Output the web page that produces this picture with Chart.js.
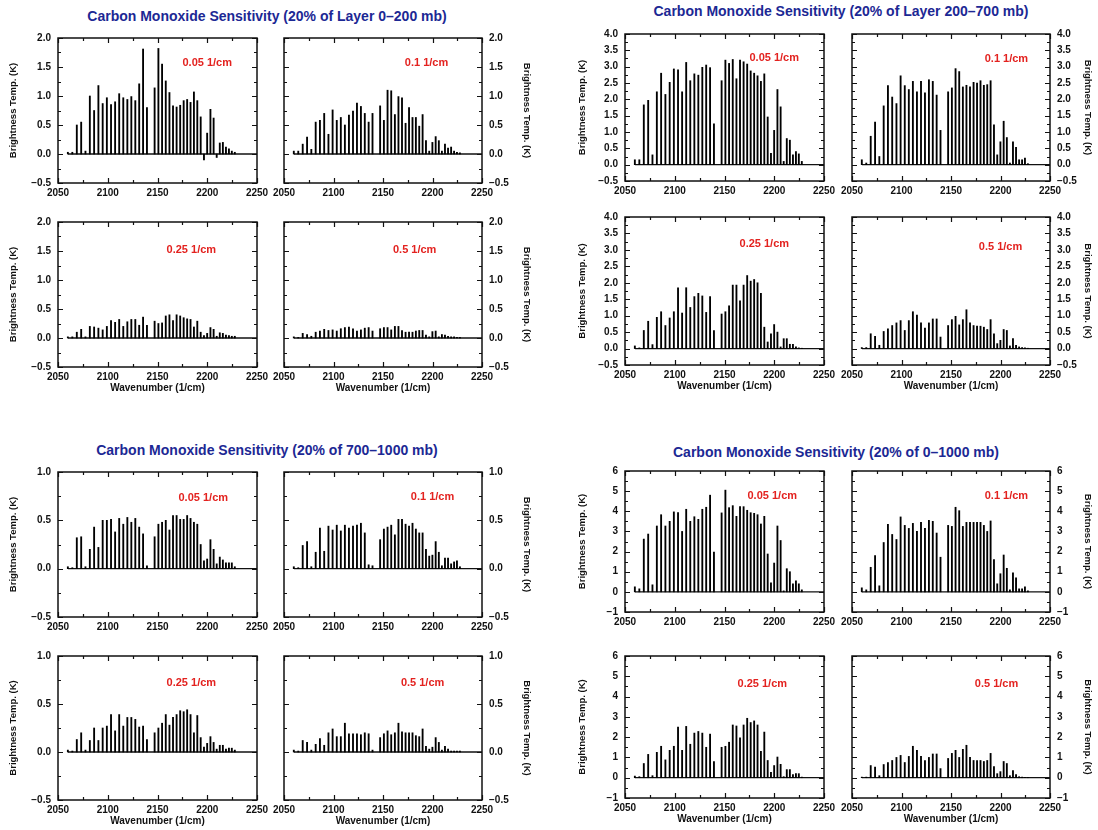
<!DOCTYPE html>
<html>
<head>
<meta charset="utf-8">
<script src="https://cdn.jsdelivr.net/npm/chart.js@4.4.0/dist/chart.umd.min.js"></script>
<style>
  body { margin: 0; background: #fff; }
  #page { position: relative; width: 1098px; height: 830px; overflow: hidden; font-family: 'Liberation Sans', Arial, sans-serif; }
  .title { position: absolute; font-weight: bold; font-size: 14px; color: #1c2894; white-space: nowrap; transform: translate(-50%, -50%); }
  canvas { position: absolute; }
</style>
</head>
<body>
<div id="page">
  <div class="title" style="left:267px;top:16px">Carbon Monoxide Sensitivity (20% of Layer 0–200 mb)</div>
  <div class="title" style="left:841px;top:11px">Carbon Monoxide Sensitivity (20% of Layer 200–700 mb)</div>
  <div class="title" style="left:267px;top:450px">Carbon Monoxide Sensitivity (20% of 700–1000 mb)</div>
  <div class="title" style="left:836px;top:452px">Carbon Monoxide Sensitivity (20% of 0–1000 mb)</div>
</div>
<script>
// CO fundamental band line positions (1/cm), P branch then R branch
const lineWn = [2059.9, 2064.4, 2068.9, 2073.3, 2077.6, 2082.0, 2086.3, 2090.6, 2094.9, 2099.1,
  2103.3, 2107.4, 2111.5, 2115.6, 2119.7, 2123.7, 2127.7, 2131.6, 2135.5, 2139.4,
  2147.1, 2150.9, 2154.6, 2158.3, 2162.0, 2165.6, 2169.2, 2172.8, 2176.3, 2179.8,
  2183.2, 2186.6, 2190.0, 2193.4, 2196.7, 2199.9, 2203.2, 2206.4, 2209.5, 2212.6,
  2215.7, 2218.8, 2221.8, 2224.7, 2227.7];
const spectrumRange = [2060, 2250];
const xTicks = [2050, 2100, 2150, 2200, 2250];
const yTicks0_200 = [-0.5, 0, 0.5, 1, 1.5, 2];
const yTicks200_700 = [-0.5, 0, 0.5, 1, 1.5, 2, 2.5, 3, 3.5, 4];
const yTicks700_1000 = [-0.5, 0, 0.5, 1];
const yTicks0_1000 = [-1, 0, 1, 2, 3, 4, 5, 6];
const resolutions = ['0.05 1/cm', '0.1 1/cm', '0.25 1/cm', '0.5 1/cm'];

// brightness temperature change (K), one value per line
const top005 = [0.03,0.03,0.50,0.55,0.05,1.00,0.75,1.18,0.87,0.97,0.85,0.90,1.04,0.97,0.94,0.99,0.92,1.21,1.81,0.80,
  1.14,1.82,1.55,1.26,1.06,0.83,0.81,0.84,0.92,0.94,0.89,1.07,0.92,0.64,-0.10,0.36,0.77,0.62,-0.06,0.19,0.20,0.12,0.09,0.05,0.03];
const top01 = [0.05,0.05,0.17,0.29,0.08,0.55,0.58,0.70,0.34,0.76,0.58,0.63,0.50,0.67,0.74,0.88,0.82,0.70,0.55,0.70,
  0.83,0.58,1.10,1.09,0.68,0.99,0.97,0.53,0.80,0.63,0.63,0.48,0.68,0.23,0.05,0.20,0.30,0.23,0.05,0.17,0.10,0.12,0.05,0.03,0.02];
const top025 = [0.02,0.02,0.10,0.15,0.02,0.20,0.19,0.17,0.14,0.20,0.30,0.27,0.32,0.20,0.28,0.32,0.32,0.22,0.36,0.22,
  0.29,0.25,0.26,0.38,0.40,0.30,0.40,0.38,0.35,0.33,0.32,0.19,0.29,0.10,0.04,0.08,0.18,0.15,0.03,0.09,0.08,0.05,0.04,0.03,0.03];
const top05 = [0.02,0.01,0.08,0.06,0.03,0.10,0.12,0.15,0.13,0.14,0.12,0.16,0.18,0.19,0.16,0.12,0.14,0.17,0.18,0.12,
  0.16,0.18,0.18,0.14,0.20,0.20,0.13,0.10,0.10,0.10,0.12,0.13,0.13,0.05,0.02,0.11,0.12,0.02,0.06,0.05,0.03,0.02,0.02,0.01,0.01];

const mid005 = [0.15,0.15,1.83,1.97,0.30,2.23,2.80,2.15,2.52,2.93,2.90,2.23,3.13,2.57,2.78,2.74,2.98,3.05,2.97,1.25,
  2.57,3.20,3.10,3.22,2.63,3.20,3.15,3.08,2.87,2.80,2.72,2.55,2.78,1.46,0.35,1.05,2.30,1.77,0.10,0.80,0.75,0.30,0.40,0.33,0.10];
const mid01 = [0.15,0.05,0.87,1.30,0.25,1.80,2.42,2.07,1.87,2.72,2.42,2.30,2.55,2.23,2.55,2.20,2.60,2.55,2.13,1.05,
  2.23,2.35,2.94,2.85,2.38,2.43,2.38,2.52,2.50,2.57,2.43,2.45,2.57,1.22,0.30,0.70,1.33,0.83,0.05,0.70,0.53,0.15,0.15,0.20,0.03];
const mid025 = [0.08,0.02,0.55,0.83,0.12,0.95,1.12,0.70,0.93,1.12,1.85,1.08,1.85,1.25,1.58,1.68,1.60,1.10,1.58,0.55,
  1.05,1.12,1.30,1.93,1.93,1.45,1.93,2.22,2.05,2.10,2.00,1.68,0.65,0.20,0.45,0.73,0.50,0.05,0.30,0.30,0.13,0.13,0.05,0.02,0.01];
const mid05 = [0.03,0.03,0.45,0.37,0.10,0.52,0.60,0.70,0.78,0.85,0.55,0.85,1.12,1.02,0.78,0.62,0.78,0.90,0.90,0.35,
  0.70,0.88,0.98,0.72,0.88,1.18,0.78,0.70,0.68,0.68,0.65,0.58,0.88,0.45,0.15,0.25,0.58,0.55,0.08,0.30,0.10,0.05,0.03,0.02,0.01];

const low005 = [0.02,0.01,0.32,0.33,0.02,0.20,0.43,0.22,0.50,0.50,0.51,0.38,0.52,0.46,0.53,0.48,0.52,0.43,0.36,0.03,
  0.33,0.46,0.48,0.50,0.40,0.55,0.55,0.51,0.51,0.55,0.52,0.48,0.46,0.25,0.08,0.10,0.30,0.20,0.05,0.12,0.09,0.06,0.06,0.06,0.02];
const low01 = [0.02,0.01,0.24,0.28,0.02,0.17,0.42,0.18,0.44,0.40,0.45,0.39,0.45,0.42,0.44,0.45,0.47,0.37,0.04,0.03,
  0.30,0.41,0.43,0.45,0.35,0.51,0.51,0.46,0.44,0.47,0.41,0.37,0.37,0.20,0.13,0.14,0.28,0.17,0.03,0.11,0.11,0.05,0.07,0.08,0.02];
const low025 = [0.02,0.01,0.13,0.20,0.02,0.12,0.25,0.12,0.25,0.27,0.39,0.22,0.39,0.27,0.36,0.36,0.34,0.26,0.27,0.13,
  0.20,0.25,0.30,0.39,0.28,0.36,0.39,0.43,0.42,0.44,0.39,0.20,0.38,0.15,0.05,0.09,0.16,0.10,0.03,0.07,0.07,0.03,0.04,0.04,0.02];
const low05 = [0.02,0.01,0.12,0.10,0.02,0.08,0.14,0.07,0.20,0.24,0.16,0.16,0.30,0.19,0.19,0.19,0.18,0.20,0.19,0.02,
  0.15,0.19,0.22,0.18,0.20,0.30,0.21,0.20,0.20,0.20,0.17,0.16,0.24,0.06,0.03,0.05,0.15,0.10,0.02,0.06,0.03,0.01,0.01,0.01,0.01];

const col005 = [0.25,0.15,2.62,2.87,0.35,3.27,3.83,3.27,3.50,3.97,3.93,3.00,4.10,3.50,3.73,3.60,4.10,4.20,4.80,1.98,
  3.92,5.05,4.18,4.28,3.75,4.23,4.23,4.05,3.93,3.90,3.83,3.37,3.75,1.88,0.45,1.43,3.27,2.55,0.05,1.15,1.00,0.40,0.55,0.40,0.10];
const col01 = [0.20,0.10,1.22,1.80,0.30,2.45,3.35,2.85,2.60,3.72,3.30,3.15,3.40,3.00,3.45,3.15,3.55,3.50,2.92,1.72,
  3.30,3.25,4.20,4.03,3.25,3.45,3.45,3.45,3.45,3.45,3.30,3.00,3.52,1.60,0.40,0.90,1.83,1.17,0.10,0.95,0.70,0.15,0.15,0.25,0.05];
const col025 = [0.08,0.05,0.70,1.15,0.10,1.25,1.55,0.88,1.35,1.55,2.50,1.35,2.53,1.65,2.20,2.28,2.20,1.50,2.15,0.80,
  1.50,1.55,1.75,2.60,2.55,1.97,2.60,2.93,2.72,2.80,2.60,1.30,2.25,0.85,0.27,0.60,1.02,0.66,0.05,0.40,0.40,0.15,0.20,0.20,0.03];
const col05 = [0.03,0.03,0.60,0.52,0.10,0.65,0.75,0.85,1.00,1.10,0.75,1.05,1.55,1.35,1.05,0.85,1.00,1.17,1.17,0.45,
  0.95,1.20,1.35,1.00,1.40,1.60,1.00,0.85,0.85,0.85,0.80,0.85,1.20,0.55,0.20,0.30,0.80,0.70,0.10,0.35,0.15,0.05,0.03,0.02,0.01];

const FONT = "'Liberation Sans', Arial, sans-serif";
const PL = 16, PR = 16, PT = 8, PB = 2;

// box = plot area [left, top, right, bottom] in page pixels; yw = y axis band width
const panels = [
  { box: [58, 33, 257, 183], side: 'left', yw: 50, xt: false, yt: yTicks0_200, dec: 1, tb: top005, res: 0, lab: [0.75, 0.17] },
  { box: [284, 33, 482, 183], side: 'right', yw: 50, xt: false, yt: yTicks0_200, dec: 1, tb: top01, res: 1, lab: [0.72, 0.17] },
  { box: [58, 217, 257, 367], side: 'left', yw: 50, xt: true, yt: yTicks0_200, dec: 1, tb: top025, res: 2, lab: [0.67, 0.19] },
  { box: [284, 217, 482, 367], side: 'right', yw: 50, xt: true, yt: yTicks0_200, dec: 1, tb: top05, res: 3, lab: [0.66, 0.19] },

  { box: [625, 29, 824, 181], side: 'left', yw: 48, xt: false, yt: yTicks200_700, dec: 1, tb: mid005, res: 0, lab: [0.75, 0.16] },
  { box: [852, 29, 1050, 181], side: 'right', yw: 43, xt: false, yt: yTicks200_700, dec: 1, tb: mid01, res: 1, lab: [0.78, 0.17] },
  { box: [625, 212, 824, 365], side: 'left', yw: 48, xt: true, yt: yTicks200_700, dec: 1, tb: mid025, res: 2, lab: [0.70, 0.18] },
  { box: [852, 212, 1050, 365], side: 'right', yw: 43, xt: true, yt: yTicks200_700, dec: 1, tb: mid05, res: 3, lab: [0.75, 0.20] },

  { box: [58, 467, 257, 617], side: 'left', yw: 50, xt: false, yt: yTicks700_1000, dec: 1, tb: low005, res: 0, lab: [0.73, 0.18] },
  { box: [284, 467, 482, 617], side: 'right', yw: 50, xt: false, yt: yTicks700_1000, dec: 1, tb: low01, res: 1, lab: [0.75, 0.17] },
  { box: [58, 651, 257, 800], side: 'left', yw: 50, xt: true, yt: yTicks700_1000, dec: 1, tb: low025, res: 2, lab: [0.67, 0.19] },
  { box: [284, 651, 482, 800], side: 'right', yw: 50, xt: true, yt: yTicks700_1000, dec: 1, tb: low05, res: 3, lab: [0.70, 0.19] },

  { box: [625, 466, 824, 612], side: 'left', yw: 48, xt: false, yt: yTicks0_1000, dec: 0, tb: col005, res: 0, lab: [0.74, 0.18] },
  { box: [852, 466, 1050, 612], side: 'right', yw: 43, xt: false, yt: yTicks0_1000, dec: 0, tb: col01, res: 1, lab: [0.78, 0.18] },
  { box: [625, 651, 824, 798], side: 'left', yw: 48, xt: true, yt: yTicks0_1000, dec: 0, tb: col025, res: 2, lab: [0.69, 0.20] },
  { box: [852, 651, 1050, 798], side: 'right', yw: 43, xt: true, yt: yTicks0_1000, dec: 0, tb: col05, res: 3, lab: [0.73, 0.20] }
];

function fmt(v, dec) {
  const s = Math.abs(v).toFixed(dec);
  return v < 0 ? '\u2212' + s : s;
}

// box outline, inward tick marks on all sides, and the red resolution label
const framePlugin = {
  id: 'frame',
  afterDatasetsDraw(chart, args, opts) {
    const { ctx, chartArea: a, scales } = chart;
    const x = scales.x, y = scales.y;
    const marks = vals => {
      const out = [];
      vals.forEach((v, i) => {
        out.push([v, 5]);
        if (i < vals.length - 1) out.push([(v + vals[i + 1]) / 2, 3]);
      });
      return out;
    };
    ctx.save();
    ctx.strokeStyle = '#111';
    ctx.lineWidth = 1.2;
    ctx.beginPath();
    marks(x.ticks.map(t => t.value)).forEach(([v, len]) => {
      const px = Math.round(x.getPixelForValue(v)) + 0.5;
      ctx.moveTo(px, a.bottom); ctx.lineTo(px, a.bottom - len);
      ctx.moveTo(px, a.top); ctx.lineTo(px, a.top + len);
    });
    marks(y.ticks.map(t => t.value)).forEach(([v, len]) => {
      const py = Math.round(y.getPixelForValue(v)) + 0.5;
      ctx.moveTo(a.left, py); ctx.lineTo(a.left + len, py);
      ctx.moveTo(a.right, py); ctx.lineTo(a.right - len, py);
    });
    ctx.stroke();
    ctx.lineWidth = 1.5;
    ctx.strokeRect(a.left, a.top, a.right - a.left, a.bottom - a.top);
    if (opts.text) {
      ctx.fillStyle = '#e3221f';
      ctx.font = 'bold 11px ' + FONT;
      ctx.textAlign = 'center';
      ctx.textBaseline = 'middle';
      ctx.fillText(opts.text, a.left + opts.fx * (a.right - a.left), a.top + opts.fy * (a.bottom - a.top));
    }
    ctx.restore();
  }
};

const page = document.getElementById('page');

panels.forEach(p => {
  const [x0, y0, x1, y1] = p.box;
  const W = x1 - x0, H = y1 - y0;
  const XH = p.xt ? 27 : 20;
  const cw = PL + p.yw + W + PR, ch = PT + H + XH + PB;
  const cv = document.createElement('canvas');
  cv.width = cw; cv.height = ch;
  cv.style.width = cw + 'px'; cv.style.height = ch + 'px';
  cv.style.left = (p.side === 'left' ? x0 - p.yw - PL : x0 - PL) + 'px';
  cv.style.top = (y0 - PT) + 'px';
  page.appendChild(cv);

  const tickFont = { family: FONT, size: 10, weight: 'bold' };
  new Chart(cv, {
    type: 'bar',
    data: {
      datasets: [
        {
          type: 'bar',
          data: lineWn.map((w, i) => ({ x: w, y: p.tb[i] })),
          backgroundColor: '#000',
          barThickness: 1.2,
          grouped: false
        },
        {
          type: 'line',
          data: spectrumRange.map(w => ({ x: w, y: 0 })),
          borderColor: '#111',
          borderWidth: 1.3,
          pointRadius: 0
        }
      ]
    },
    options: {
      responsive: false,
      animation: false,
      devicePixelRatio: 1,
      layout: { padding: { left: PL, right: PR, top: PT, bottom: PB } },
      plugins: {
        legend: { display: false },
        tooltip: { enabled: false },
        frame: { text: resolutions[p.res], fx: p.lab[0], fy: p.lab[1] }
      },
      scales: {
        x: {
          type: 'linear',
          min: xTicks[0],
          max: xTicks[xTicks.length - 1],
          offset: false,
          afterBuildTicks: s => { s.ticks = xTicks.map(v => ({ value: v })); },
          afterFit: s => { s.height = XH; },
          grid: { display: false, drawTicks: false },
          border: { display: false },
          ticks: { color: '#111', font: tickFont, padding: 4, maxRotation: 0, autoSkip: false, callback: v => String(v) },
          title: { display: p.xt, text: 'Wavenumber (1/cm)', color: '#111', font: tickFont, padding: 0 }
        },
        y: {
          type: 'linear',
          position: p.side,
          min: p.yt[0],
          max: p.yt[p.yt.length - 1],
          afterBuildTicks: s => { s.ticks = p.yt.map(v => ({ value: v })); },
          afterFit: s => { s.width = p.yw; },
          grid: { display: false, drawTicks: false },
          border: { display: false },
          ticks: { color: '#111', font: tickFont, padding: 7, callback: v => fmt(v, p.dec) },
          title: { display: true, text: 'Brightness Temp. (K)', color: '#111', font: { family: FONT, size: 9.5, weight: 'bold' }, padding: 0 }
        }
      }
    },
    plugins: [framePlugin]
  });
});
</script>
</body>
</html>
